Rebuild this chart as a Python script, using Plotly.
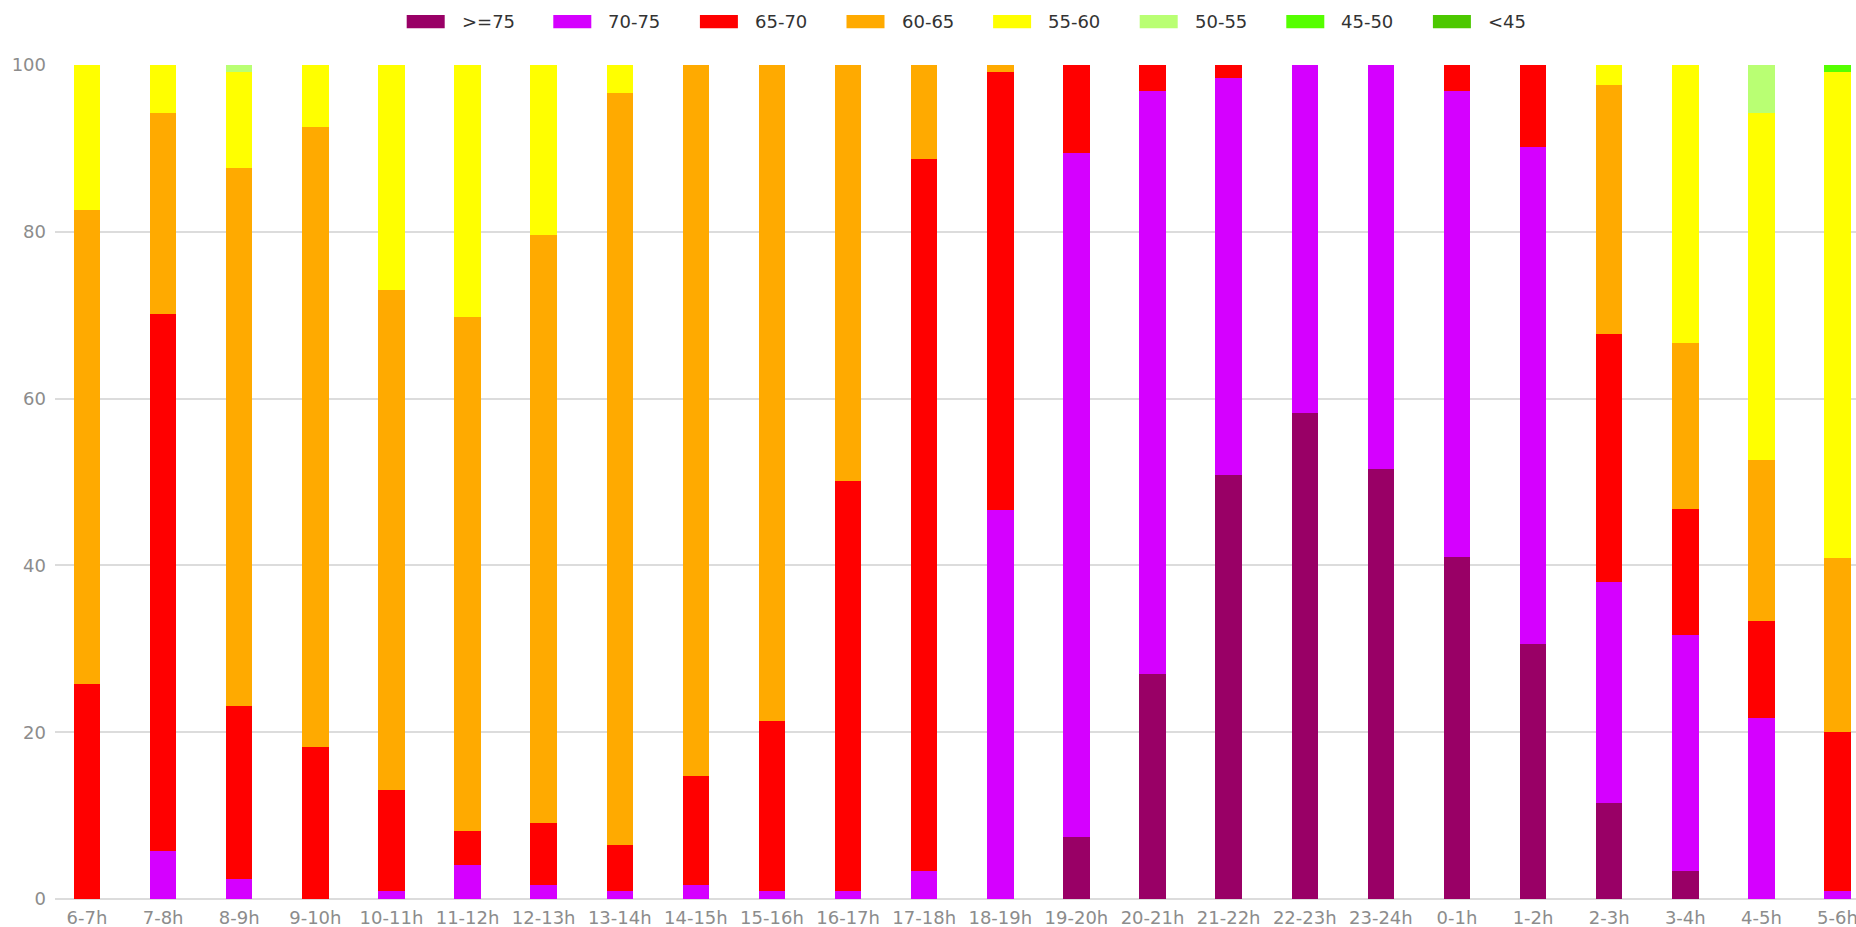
import plotly.graph_objects as go

categories = ["6-7h", "7-8h", "8-9h", "9-10h", "10-11h", "11-12h", "12-13h", "13-14h",
              "14-15h", "15-16h", "16-17h", "17-18h", "18-19h", "19-20h", "20-21h", "21-22h",
              "22-23h", "23-24h", "0-1h", "1-2h", "2-3h", "3-4h", "4-5h", "5-6h"]

series_names = [">=75", "70-75", "65-70", "60-65", "55-60", "50-55", "45-50", "<45"]
series_colors = ["#990066", "#d500ff", "#ff0000", "#ffaa00", "#ffff00", "#b9ff73", "#55ff00", "#4cc800"]

s_ge75 = [0, 0, 0, 0, 0, 0, 0, 0, 0, 0, 0, 0, 0, 7.4, 27.0, 50.8, 58.3, 51.6, 41.0, 30.6, 11.5, 3.4, 0, 0]
s_70_75 = [0, 5.7, 2.4, 0, 0.9, 4.1, 1.7, 0.9, 1.7, 0.9, 0.9, 3.3, 46.7, 82.0, 69.9, 47.6, 41.7, 48.4, 55.9, 59.6, 26.5, 28.2, 21.7, 0.9]
s_65_70 = [25.8, 64.5, 20.7, 18.2, 12.2, 4.1, 7.4, 5.6, 13.1, 20.4, 49.2, 85.4, 52.5, 10.6, 3.1, 1.6, 0, 0, 3.1, 9.8, 29.8, 15.2, 11.6, 19.1]
s_60_65 = [56.8, 24.1, 64.6, 74.4, 59.9, 61.6, 70.5, 90.2, 85.2, 78.7, 49.9, 11.3, 0.8, 0, 0, 0, 0, 0, 0, 0, 29.8, 19.9, 19.3, 20.9]
s_55_60 = [17.4, 5.7, 11.5, 7.4, 27.0, 30.2, 20.4, 3.3, 0, 0, 0, 0, 0, 0, 0, 0, 0, 0, 0, 0, 2.4, 33.3, 41.6, 58.3]
s_50_55 = [0, 0, 0.8, 0, 0, 0, 0, 0, 0, 0, 0, 0, 0, 0, 0, 0, 0, 0, 0, 0, 0, 0, 5.8, 0]
s_45_50 = [0, 0, 0, 0, 0, 0, 0, 0, 0, 0, 0, 0, 0, 0, 0, 0, 0, 0, 0, 0, 0, 0, 0, 0.8]
s_lt45 = [0] * 24

y_ticks = [0, 20, 40, 60, 80, 100]

all_series = [s_ge75, s_70_75, s_65_70, s_60_65, s_55_60, s_50_55, s_45_50, s_lt45]

W, H = 1856, 927
ML, MR, MT, MB = 55, 0, 65, 28
PW = W - ML - MR
PH = H - MT - MB

fig = go.Figure()
for name, color, vals in zip(series_names, series_colors, all_series):
    fig.add_trace(go.Bar(
        name=name, x=categories, y=vals, width=0.348,
        marker=dict(color=color, line=dict(width=0)),
        showlegend=False,
    ))

# custom legend (wide rectangular swatches)
def px_x(px):
    return (px - ML) / PW

def px_y(py):
    return (H - MB - py) / PH

shapes = []
annotations = []
for i, (name, color) in enumerate(zip(series_names, series_colors)):
    x0 = 406.7 + 146.6 * i
    shapes.append(dict(type="rect", xref="paper", yref="paper",
                       x0=px_x(x0), x1=px_x(x0 + 38), y0=px_y(28.3), y1=px_y(15),
                       fillcolor=color, line=dict(width=0)))
    annotations.append(dict(xref="paper", yref="paper", x=px_x(x0 + 53), y=px_y(21.7),
                            text=name, showarrow=False, xanchor="left", yanchor="middle",
                            font=dict(size=18, color="#333333")))

fig.update_layout(
    width=W, height=H,
    margin=dict(l=ML, r=MR, t=MT, b=MB, pad=0, autoexpand=False),
    barmode="stack",
    bargap=0,
    plot_bgcolor="white", paper_bgcolor="white",
    font=dict(family="DejaVu Sans", size=18, color="#8c8c8c"),
    shapes=shapes,
    annotations=annotations,
    xaxis=dict(type="category", range=[-0.4205, 23.243], showgrid=False, automargin=False,
               showline=False, zeroline=False, ticks="", ticklabelstandoff=6,
               tickfont=dict(size=18, color="#8c8c8c"), fixedrange=True),
    yaxis=dict(range=[0, 100], tickvals=y_ticks, showgrid=True, gridcolor="#dcdcdc", automargin=False,
               gridwidth=1.5, zeroline=True, zerolinecolor="#dcdcdc", zerolinewidth=1.5,
               showline=False, ticks="", ticklabelstandoff=8,
               tickfont=dict(size=18, color="#8c8c8c"), fixedrange=True),
)

fig.write_html("out.html", config={"displayModeBar": False},
               post_script="document.body.style.margin='0';document.body.style.overflow='hidden';")
